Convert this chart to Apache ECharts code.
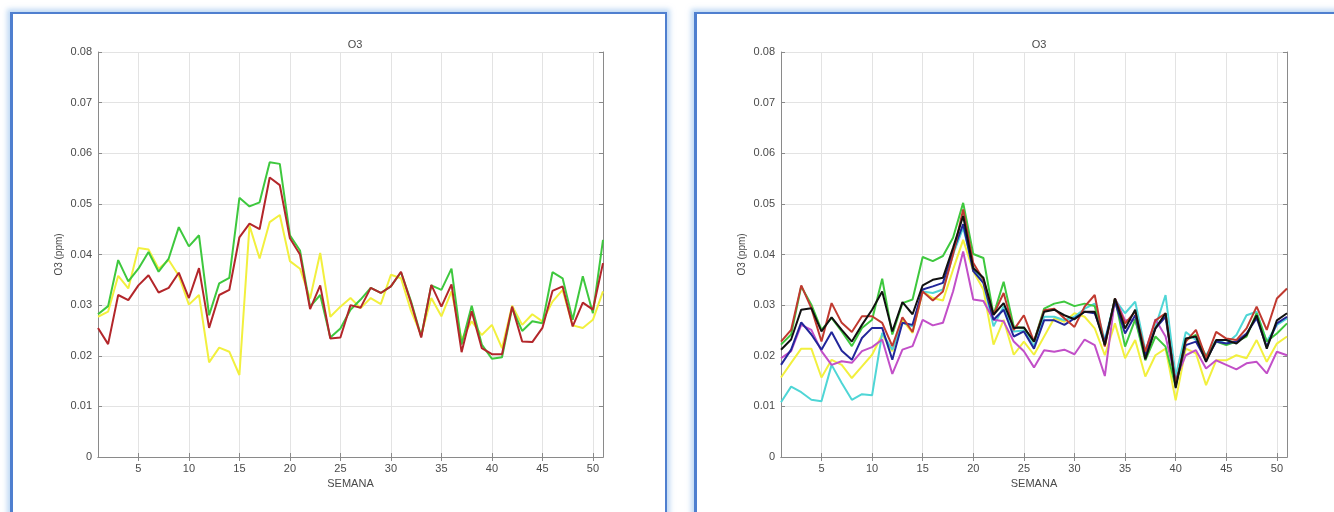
<!DOCTYPE html>
<html>
<head>
<meta charset="utf-8">
<script src="https://cdn.jsdelivr.net/npm/echarts@6/dist/echarts.min.js"></script>
<style>
html,body{margin:0;padding:0;background:#fff;width:1334px;height:512px;overflow:hidden;}
.frame{position:absolute;background:#fff;border:2px solid #4f7fcf;box-shadow:0 0 5px 3px rgba(140,185,235,0.55);}
#f1{left:10px;top:12px;width:652px;height:530px;border-left-width:3px;}
#f2{left:694px;top:12px;width:660px;height:530px;border-left-width:3px;}
#chart{position:absolute;left:0;top:0;width:1334px;height:512px;}
</style>
</head>
<body>
<div class="frame" id="f1"></div>
<div class="frame" id="f2"></div>
<div id="chart"></div>
<script>
// Weeks 1..51
const weeks = [];
for (let i = 1; i <= 51; i++) weeks.push(i);
const yTicks = [0, 0.01, 0.02, 0.03, 0.04, 0.05, 0.06, 0.07, 0.08];

// Left panel
const leftGreen = [0.0282,0.0298,0.0389,0.0347,0.0372,0.0405,0.0366,0.0392,0.0454,0.0416,
  0.0438,0.0280,0.0343,0.0354,0.0512,0.0495,0.0503,0.0582,0.0579,0.0438,
  0.0408,0.0297,0.0320,0.0236,0.0254,0.0291,0.0311,0.0334,0.0324,0.0337,
  0.0365,0.0307,0.0238,0.0339,0.0330,0.0372,0.0222,0.0299,0.0222,0.0194,
  0.0197,0.0294,0.0249,0.0268,0.0264,0.0365,0.0353,0.0271,0.0357,0.0284,0.0429];
const leftRed = [0.0255,0.0223,0.0320,0.0310,0.0339,0.0359,0.0325,0.0334,0.0364,0.0314,
  0.0373,0.0255,0.0320,0.0330,0.0434,0.0461,0.0450,0.0552,0.0537,0.0432,
  0.0400,0.0292,0.0339,0.0234,0.0236,0.0300,0.0295,0.0334,0.0324,0.0337,
  0.0366,0.0304,0.0236,0.0340,0.0297,0.0341,0.0207,0.0288,0.0215,0.0203,
  0.0203,0.0297,0.0228,0.0227,0.0255,0.0328,0.0337,0.0258,0.0305,0.0291,0.0383];
const leftYellow = [0.0277,0.0287,0.0358,0.0333,0.0413,0.0410,0.0372,0.0389,0.0358,0.0301,
  0.0320,0.0187,0.0216,0.0208,0.0162,0.0457,0.0392,0.0464,0.0478,0.0387,
  0.0372,0.0313,0.0403,0.0277,0.0297,0.0314,0.0294,0.0314,0.0302,0.0360,
  0.0353,0.0288,0.0241,0.0314,0.0278,0.0327,0.0232,0.0268,0.0241,0.0261,
  0.0215,0.0299,0.0261,0.0282,0.0268,0.0307,0.0330,0.0260,0.0255,0.0271,0.0327];

// Right panel
const rightGreen = [0.0222,0.0242,0.0337,0.0301,0.0251,0.0275,0.0248,0.0219,0.0255,0.0271,
  0.0352,0.0242,0.0304,0.0311,0.0395,0.0387,0.0397,0.0433,0.0502,0.0401,
  0.0393,0.0281,0.0346,0.0258,0.0255,0.0228,0.0293,0.0303,0.0307,0.0298,
  0.0303,0.0298,0.0221,0.0313,0.0218,0.0272,0.0191,0.0238,0.0218,0.0139,
  0.0231,0.0241,0.0198,0.0228,0.0221,0.0228,0.0238,0.0284,0.0228,0.0244,0.0264];
const rightRed = [0.0228,0.0251,0.0339,0.0294,0.0228,0.0304,0.0265,0.0247,0.0278,0.0278,
  0.0265,0.0219,0.0276,0.0247,0.0327,0.0309,0.0327,0.0400,0.0489,0.0383,
  0.0350,0.0281,0.0324,0.0251,0.0280,0.0228,0.0290,0.0293,0.0274,0.0257,
  0.0297,0.0320,0.0218,0.0313,0.0264,0.0287,0.0208,0.0270,0.0284,0.0142,
  0.0228,0.0251,0.0195,0.0247,0.0234,0.0231,0.0254,0.0297,0.0251,0.0313,0.0333];
const rightBlack = [0.0212,0.0232,0.0291,0.0294,0.0248,0.0276,0.0251,0.0228,0.0261,0.0291,
  0.0327,0.0248,0.0306,0.0282,0.0339,0.0350,0.0354,0.0413,0.0476,0.0373,
  0.0354,0.0281,0.0304,0.0255,0.0256,0.0228,0.0287,0.0291,0.0280,0.0272,
  0.0287,0.0287,0.0221,0.0313,0.0254,0.0291,0.0193,0.0254,0.0284,0.0136,
  0.0234,0.0238,0.0188,0.0231,0.0231,0.0224,0.0241,0.0280,0.0214,0.0270,0.0284];
const rightBlue = [0.0182,0.0212,0.0266,0.0242,0.0212,0.0247,0.0210,0.0192,0.0235,0.0255,
  0.0255,0.0192,0.0265,0.0261,0.0331,0.0337,0.0344,0.0406,0.0460,0.0367,
  0.0344,0.0271,0.0291,0.0238,0.0248,0.0214,0.0270,0.0270,0.0261,0.0274,
  0.0287,0.0284,0.0228,0.0307,0.0244,0.0280,0.0201,0.0254,0.0277,0.0145,
  0.0221,0.0228,0.0191,0.0228,0.0224,0.0228,0.0244,0.0274,0.0218,0.0264,0.0277];
const rightMagenta = [0.0195,0.0209,0.0261,0.0251,0.0209,0.0182,0.0189,0.0186,0.0209,0.0217,
  0.0232,0.0164,0.0212,0.0219,0.0271,0.0260,0.0265,0.0327,0.0406,0.0311,
  0.0308,0.0271,0.0268,0.0228,0.0209,0.0177,0.0211,0.0208,0.0212,0.0203,
  0.0232,0.0221,0.0160,0.0313,0.0270,0.0270,0.0208,0.0272,0.0238,0.0152,
  0.0201,0.0211,0.0175,0.0191,0.0182,0.0173,0.0185,0.0188,0.0165,0.0208,0.0201];
const rightYellow = [0.0157,0.0186,0.0214,0.0214,0.0157,0.0192,0.0182,0.0156,0.0179,0.0202,
  0.0242,0.0209,0.0271,0.0245,0.0327,0.0314,0.0309,0.0370,0.0429,0.0367,
  0.0331,0.0222,0.0271,0.0202,0.0228,0.0202,0.0238,0.0274,0.0267,0.0284,
  0.0277,0.0254,0.0201,0.0264,0.0195,0.0231,0.0159,0.0201,0.0214,0.0112,
  0.0214,0.0205,0.0142,0.0191,0.0191,0.0201,0.0195,0.0231,0.0188,0.0224,0.0238];
const rightCyan = [0.0108,0.0139,0.0128,0.0113,0.0110,0.0182,0.0146,0.0113,0.0124,0.0122,
  0.0245,0.0212,0.0265,0.0258,0.0327,0.0324,0.0331,0.0400,0.0453,0.0375,
  0.0344,0.0258,0.0298,0.0248,0.0250,0.0219,0.0277,0.0277,0.0270,0.0277,
  0.0293,0.0303,0.0231,0.0311,0.0284,0.0307,0.0211,0.0257,0.0320,0.0159,
  0.0247,0.0231,0.0201,0.0231,0.0224,0.0241,0.0280,0.0287,0.0228,0.0261,0.0274];

const txt = '#4a4a4a';
const axisCol = '#8a8a8a';
const gridCol = '#e3e3e3';
const FONT = 'Liberation Sans, Arial, sans-serif';

function xAxes(gi) {
  const show = (i, v) => Number(v) % 5 === 0;
  return [
    { type: 'category', gridIndex: gi, data: weeks, boundaryGap: false,
      name: 'SEMANA', nameLocation: 'middle', nameGap: 21,
      nameTextStyle: { color: txt, fontSize: 11, fontFamily: FONT },
      axisLine: { lineStyle: { color: axisCol, width: 1 } },
      axisTick: { inside: true, length: 4, interval: (i, v) => show(i, v), lineStyle: { color: axisCol } },
      axisLabel: { interval: (i, v) => show(i, v), color: txt, fontSize: 11, fontFamily: FONT, margin: 6 },
      splitLine: { show: true, interval: (i, v) => show(i, v), lineStyle: { color: gridCol, width: 1 } } },
    { type: 'category', gridIndex: gi, data: weeks, boundaryGap: false, position: 'top',
      axisLine: { lineStyle: { color: axisCol, width: 1 } },
      axisTick: { inside: true, length: 4, interval: (i, v) => show(i, v), lineStyle: { color: axisCol } },
      axisLabel: { show: false }, splitLine: { show: false } }
  ];
}
function yAxes(gi) {
  return [
    { type: 'value', gridIndex: gi, min: yTicks[0], max: yTicks[yTicks.length - 1], interval: 0.01,
      name: 'O3 (ppm)', nameLocation: 'middle', nameGap: 34, nameRotate: 90,
      nameTextStyle: { color: txt, fontSize: 10, fontFamily: FONT },
      axisLine: { show: true, lineStyle: { color: axisCol, width: 1 } },
      axisTick: { show: true, inside: true, length: 4, lineStyle: { color: axisCol } },
      axisLabel: { color: txt, fontSize: 11, fontFamily: FONT, margin: 6,
        formatter: v => (Math.abs(v) < 1e-9 ? '0' : v.toFixed(2)) },
      splitLine: { show: true, lineStyle: { color: gridCol, width: 1 } } },
    { type: 'value', gridIndex: gi, min: yTicks[0], max: yTicks[yTicks.length - 1], interval: 0.01, position: 'right',
      axisLine: { show: true, lineStyle: { color: axisCol, width: 1 } },
      axisTick: { show: true, inside: true, length: 4, lineStyle: { color: axisCol } },
      axisLabel: { show: false }, splitLine: { show: false } }
  ];
}
function line(data, color, xi, yi, z) {
  return { type: 'line', data: data, xAxisIndex: xi, yAxisIndex: yi, showSymbol: false, symbol: 'none',
    lineStyle: { color: color, width: 2 }, itemStyle: { color: color }, z: z, animation: false };
}

const chart = echarts.init(document.getElementById('chart'), null, { renderer: 'canvas' });
chart.setOption({
  backgroundColor: 'transparent',
  animation: false,
  title: [
    { text: 'O3', left: 350, top: 34, textAlign: 'center',
      textStyle: { color: txt, fontSize: 11, fontWeight: 'normal', fontFamily: FONT } },
    { text: 'O3', left: 1034, top: 34, textAlign: 'center',
      textStyle: { color: txt, fontSize: 11, fontWeight: 'normal', fontFamily: FONT } }
  ],
  grid: [
    { left: 98, top: 52, width: 505, height: 405, containLabel: false },
    { left: 781, top: 52, width: 506, height: 405, containLabel: false }
  ],
  xAxis: [...xAxes(0), ...xAxes(1)],
  yAxis: [...yAxes(0), ...yAxes(1)],
  series: [
    line(leftYellow, '#f2f03e', 0, 0, 2),
    line(leftGreen, '#3ec83e', 0, 0, 3),
    line(leftRed, '#b3262a', 0, 0, 4),
    line(rightYellow, '#f2f03e', 2, 2, 2),
    line(rightCyan, '#4fd6d6', 2, 2, 3),
    line(rightMagenta, '#c24fc8', 2, 2, 4),
    line(rightGreen, '#3ec83e', 2, 2, 5),
    line(rightBlue, '#22269a', 2, 2, 6),
    line(rightRed, '#c0392f', 2, 2, 7),
    line(rightBlack, '#111111', 2, 2, 8)
  ]
});
</script>
</body>
</html>
